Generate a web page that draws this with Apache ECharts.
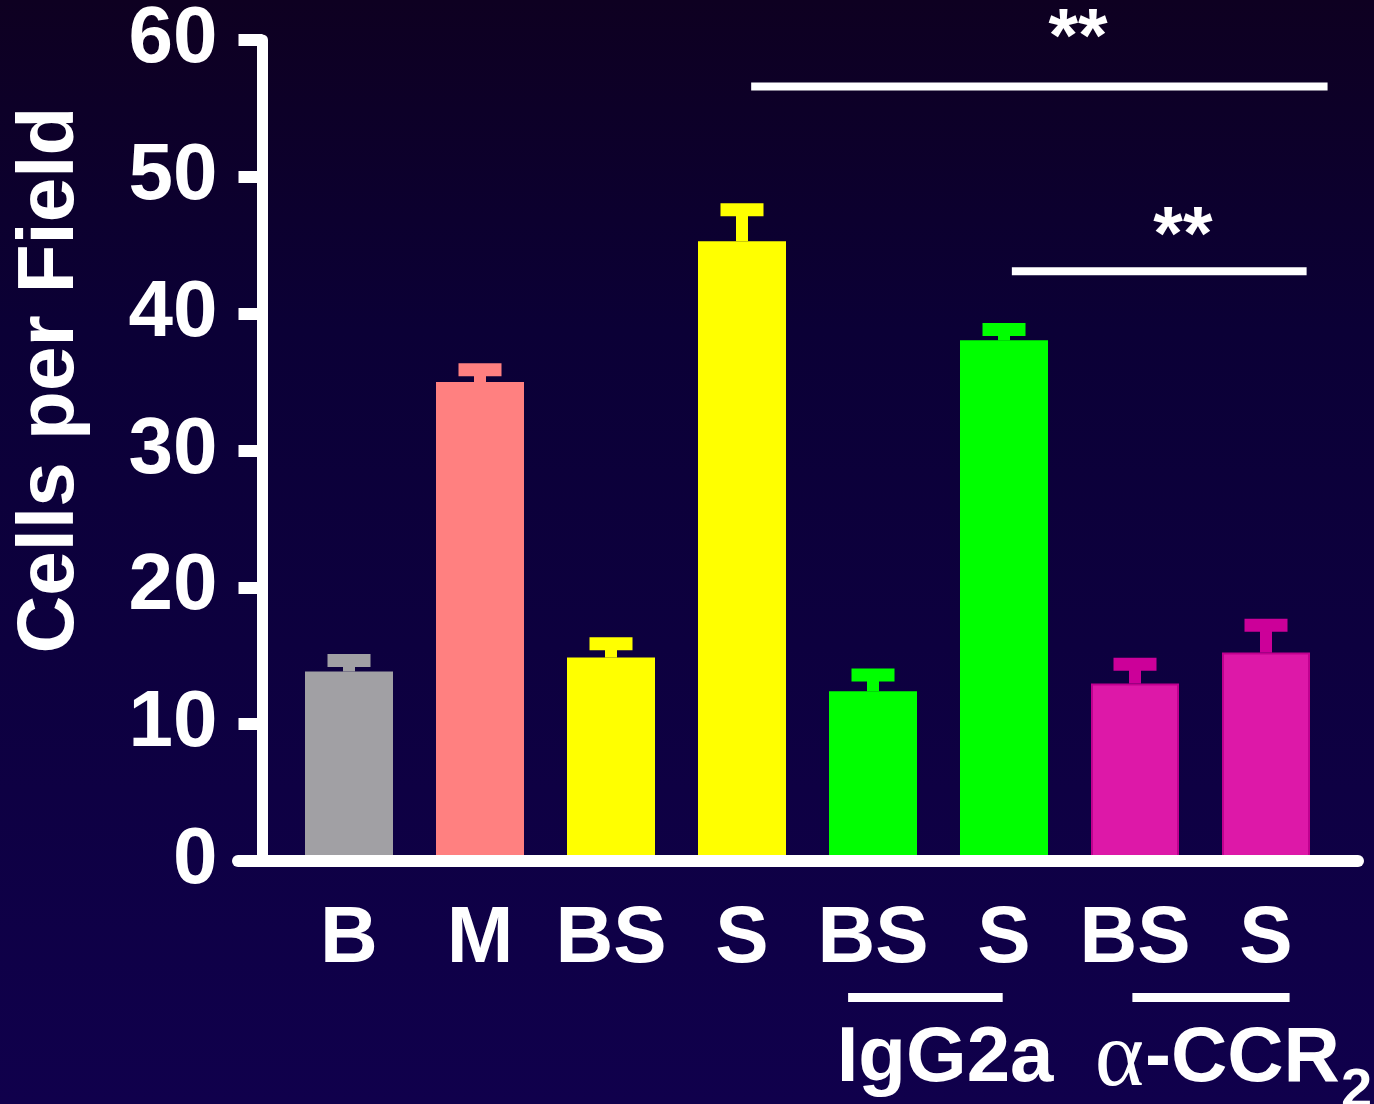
<!DOCTYPE html>
<html>
<head>
<meta charset="utf-8">
<script src="https://cdn.jsdelivr.net/npm/echarts@6/dist/echarts.min.js"></script>
<style>
  html, body { margin: 0; padding: 0; background: #0d0033; }
  #chart { width: 1374px; height: 1104px; }
</style>
</head>
<body>
<div id="chart"></div>
<script>
// Treatment groups along the x axis
const categories = ['B', 'M', 'BS', 'S', 'BS', 'S', 'BS', 'S'];
// Mean cells per field and standard error for each group
const meanCells = [13.85, 35.0, 14.87, 45.3, 12.4, 38.05, 12.97, 15.23];
const semCells = [0.8, 0.9, 1.0, 2.3, 1.2, 0.8, 1.4, 2.0];
// Y axis ticks
const yTicks = [0, 10, 20, 30, 40, 50, 60];

// Fill colours per bar and colours of their error bars
const barColors = ['#a1a0a4', '#ff8080', '#ffff00', '#ffff00', '#00ff00', '#00ff00', '#dd18a8', '#dd18a8'];
const errColors = ['#a1a0a4', '#ff8080', '#ffff00', '#ffff00', '#00ff00', '#00ff00', '#cc0099', '#cc0099'];
const borderColors = ['#a1a0a4', '#ff8080', '#ffff00', '#ffff00', '#00ff00', '#00ff00', '#c0008f', '#c0008f'];

// Significance brackets: span in category units, height in cells per field
const brackets = [
  { from: 3.07, to: 7.47, value: 56.6, mark: '**', markAt: 5.565, lift: 46 },
  { from: 5.06, to: 7.31, value: 43.1, mark: '**', markAt: 6.366, lift: 33 }
];
// Treatment groups under the category labels
const groups = [
  { from: 3.81, to: 4.99, labelAt: 4.55, label: 'IgG2a' },
  { from: 5.98, to: 7.18, labelAt: 6.076, label: 'α-CCR2' }
];

const FONT = 'Liberation Sans, Arial, sans-serif';
const chart = echarts.init(document.getElementById('chart'), null, { renderer: 'canvas' });

const option = {
  animation: false,
  backgroundColor: {
    type: 'linear', x: 0, y: 0, x2: 0, y2: 1,
    colorStops: [
      { offset: 0, color: '#0e0021' },
      { offset: 0.3, color: '#0b0036' },
      { offset: 1, color: '#10004c' }
    ]
  },
  grid: [
    { left: 283.5, right: 42.5, top: 38, bottom: 243 },
    { left: 238, right: 16, top: 38, bottom: 243 }
  ],
  xAxis: [
    {
      type: 'category', gridIndex: 0, data: categories,
      axisLine: { show: false }, axisTick: { show: false },
      axisLabel: { color: '#ffffff', fontFamily: FONT, fontWeight: 'bold', fontSize: 80, margin: 39, interval: 0 }
    },
    {
      type: 'value', gridIndex: 1, min: 0, max: 1, z: 10,
      axisLine: { show: true, onZero: false, lineStyle: { color: '#ffffff', width: 12 } },
      axisTick: { show: false }, axisLabel: { show: false }, splitLine: { show: false }
    }
  ],
  yAxis: [
    {
      type: 'value', gridIndex: 0, min: yTicks[0], max: yTicks[yTicks.length - 1], interval: 10,
      offset: 21, z: 10,
      axisLine: { show: true, lineStyle: { color: '#ffffff', width: 11 } },
      axisTick: { show: true, length: 24, lineStyle: { color: '#ffffff', width: 12 } },
      axisLabel: { color: '#ffffff', fontFamily: FONT, fontWeight: 'bold', fontSize: 80, margin: 45, padding: [7, 0, 0, 0] },
      splitLine: { show: false }
    },
    { type: 'value', gridIndex: 1, min: 0, max: 60, show: false }
  ],
  series: [
    {
      type: 'bar', xAxisIndex: 0, yAxisIndex: 0, barWidth: 88,
      data: meanCells.map((v, i) => ({
        value: v,
        itemStyle: { color: barColors[i], borderColor: borderColors[i], borderWidth: i >= 6 ? 2 : 0 }
      }))
    },
    {
      type: 'custom', xAxisIndex: 0, yAxisIndex: 0, z: 3,
      encode: { x: 0, y: 1 },
      data: meanCells.map((v, i) => [i, v, semCells[i]]),
      renderItem: function (params, api) {
        const i = api.value(0);
        const base = api.coord([i, api.value(1)]);
        const tip = api.coord([i, api.value(1) + api.value(2)]);
        const color = errColors[params.dataIndex];
        const capW = 43, capH = 13, stemW = 12;
        return {
          type: 'group',
          children: [
            { type: 'rect', shape: { x: base[0] - stemW / 2, y: tip[1], width: stemW, height: base[1] - tip[1] }, style: { fill: color } },
            { type: 'rect', shape: { x: tip[0] - capW / 2, y: tip[1] - capH / 2, width: capW, height: capH }, style: { fill: color } }
          ]
        };
      }
    }
  ]
};
chart.setOption(option);

// Annotations anchored on the category / value scales
const measure = (function () {
  const ctx = document.createElement('canvas').getContext('2d');
  return function (text, font) { ctx.font = font; return ctx.measureText(text).width; };
})();

function annotate() {
  const x0 = chart.convertToPixel({ xAxisIndex: 0 }, 0);
  const step = chart.convertToPixel({ xAxisIndex: 0 }, 1) - x0;
  const xAt = f => x0 + f * step;
  const yAt = v => chart.convertToPixel({ yAxisIndex: 0 }, v);
  const baseY = yAt(0);
  const els = [];

  // y axis title
  els.push({
    type: 'text', x: 51, y: 380, rotation: Math.PI / 2,
    style: { text: 'Cells per Field', fill: '#ffffff', font: 'bold 80px ' + FONT, align: 'center', verticalAlign: 'middle' }
  });

  brackets.forEach(b => {
    const y = yAt(b.value);
    els.push({ type: 'line', shape: { x1: xAt(b.from), y1: y, x2: xAt(b.to), y2: y }, style: { stroke: '#ffffff', lineWidth: 8 } });
    els.push({
      type: 'text', x: xAt(b.markAt), y: y - b.lift,
      style: { text: b.mark, fill: '#ffffff', font: 'bold 76px ' + FONT, align: 'center', verticalAlign: 'middle' }
    });
  });

  const lineY = baseY + 136.5;
  const labelY = baseY + 198;
  groups.forEach((g, k) => {
    els.push({ type: 'line', shape: { x1: xAt(g.from), y1: lineY, x2: xAt(g.to), y2: lineY }, style: { stroke: '#ffffff', lineWidth: 9 } });
    if (k === 0) {
      els.push({
        type: 'text', x: xAt(g.labelAt), y: labelY,
        style: { text: g.label, fill: '#ffffff', font: 'bold 78px ' + FONT, align: 'center', verticalAlign: 'middle' }
      });
    } else {
      // Greek alpha, main label and subscript drawn as three runs
      const alpha = g.label.charAt(0);
      const main = g.label.slice(1, -1);
      const sub = g.label.slice(-1);
      const mainFont = 'bold 78px ' + FONT;
      const left = xAt(g.labelAt);
      const w = measure(main, mainFont);
      els.push({
        type: 'text', x: left - 1, y: labelY + 1,
        style: { text: alpha, fill: '#ffffff', font: 'normal 94px Liberation Serif, DejaVu Serif, serif', align: 'right', verticalAlign: 'middle' }
      });
      els.push({
        type: 'text', x: left, y: labelY,
        style: { text: main, fill: '#ffffff', font: mainFont, align: 'left', verticalAlign: 'middle' }
      });
      els.push({
        type: 'text', x: left + w + 1, y: labelY + 33,
        style: { text: sub, fill: '#ffffff', font: 'bold 56px ' + FONT, align: 'left', verticalAlign: 'middle' }
      });
    }
  });

  chart.setOption({ graphic: { elements: els } });
}
annotate();
</script>
</body>
</html>
